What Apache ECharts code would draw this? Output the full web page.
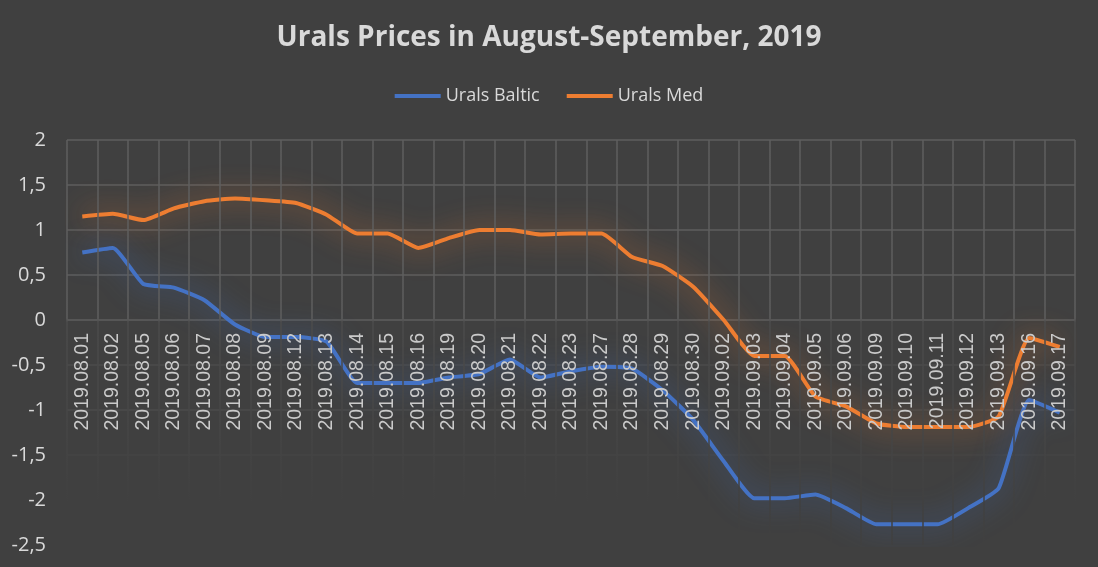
<!DOCTYPE html>
<html>
<head>
<meta charset="utf-8">
<script src="https://cdn.jsdelivr.net/npm/echarts@6/dist/echarts.min.js"></script>
<style>
  html, body { margin: 0; padding: 0; background: #404040; }
  #chart { width: 1098px; height: 567px; }
</style>
</head>
<body>
<div id="chart"></div>
<script>
// торговые дни
const days = [
  "2019.08.01", "2019.08.02", "2019.08.05", "2019.08.06", "2019.08.07",
  "2019.08.08", "2019.08.09", "2019.08.12", "2019.08.13", "2019.08.14",
  "2019.08.15", "2019.08.16", "2019.08.19", "2019.08.20", "2019.08.21",
  "2019.08.22", "2019.08.23", "2019.08.27", "2019.08.28", "2019.08.29",
  "2019.08.30", "2019.09.02", "2019.09.03", "2019.09.04", "2019.09.05",
  "2019.09.06", "2019.09.09", "2019.09.10", "2019.09.11", "2019.09.12",
  "2019.09.13", "2019.09.16", "2019.09.17"
];

const uralsBaltic = [
  0.75, 0.80, 0.40, 0.36, 0.22, -0.05, -0.19, -0.19, -0.24, -0.70,
  -0.70, -0.70, -0.64, -0.60, -0.44, -0.64, -0.57, -0.52, -0.54, -0.78,
  -1.11, -1.57, -1.98, -1.98, -1.94, -2.09, -2.27, -2.27, -2.27, -2.09,
  -1.87, -0.89, -1.03
];

const uralsMed = [
  1.15, 1.18, 1.11, 1.24, 1.32, 1.35, 1.33, 1.30, 1.17, 0.96,
  0.96, 0.80, 0.91, 1.00, 1.00, 0.95, 0.96, 0.96, 0.70, 0.60,
  0.37, 0.00, -0.40, -0.40, -0.85, -0.96, -1.15, -1.19, -1.19, -1.19,
  -1.07, -0.20, -0.30
];

const yMin = -2.5, yMax = 2, yStep = 0.5;

const textColor = "#d9d9d9";
const gridColor = "#5e5e5e";
const faintColor = "#4b4b4b";

// цвета горизонтальных линий снизу вверх: ниже нуля почти не видно
const hLineColors = ["#404040", "#404040", "#454545", faintColor, faintColor,
  gridColor, gridColor, gridColor, gridColor, gridColor];

const gridTop = 140, gridBottom = 22;
const plotH = 567 - gridTop - gridBottom;
// подписи оси X стоят на нуле
const zeroShift = plotH * (0 - yMin) / (yMax - yMin);

const chart = echarts.init(document.getElementById("chart"));

function glow(color, shadow) {
  return {
    type: "line",
    smooth: 0.15,
    symbol: "none",
    lineStyle: {
      width: 4,
      color: color,
      shadowBlur: 28,
      shadowColor: shadow
    },
    itemStyle: { color: color },
    z: 2
  };
}

chart.setOption({
  backgroundColor: "#404040",
  title: {
    text: "Urals Prices in August-September, 2019",
    left: "center",
    top: 19,
    textStyle: {
      color: textColor,
      fontFamily: "Open Sans",
      fontWeight: "bold",
      fontSize: 28
    }
  },
  legend: {
    top: 82,
    left: "center",
    icon: "rect",
    itemWidth: 46,
    itemHeight: 4,
    itemGap: 27,
    textStyle: { color: textColor, fontFamily: "Open Sans", fontSize: 18 },
    data: ["Urals Baltic", "Urals Med"]
  },
  grid: { left: 67, right: 23, top: gridTop, bottom: gridBottom, outerBoundsMode: "none" },
  xAxis: {
    type: "category",
    data: days,
    boundaryGap: true,
    offset: -zeroShift,
    z: 5,
    axisLine: { show: false, onZero: false },
    axisTick: { show: false },
    axisLabel: {
      rotate: 90,
      interval: 0,
      margin: 13,
      color: "#cacaca",
      fontFamily: "Liberation Sans",
      fontSize: 19.5
    },
    splitLine: {
      show: true,
      lineStyle: {
        width: 1.5,
        color: {
          type: "linear",
          global: true,
          x: 0, y: 140, x2: 0, y2: 545,
          colorStops: [
            { offset: 0, color: gridColor },
            { offset: 0.44, color: gridColor },
            { offset: 0.45, color: faintColor },
            { offset: 0.7, color: "#464646" },
            { offset: 0.9, color: "#404040" },
            { offset: 1, color: "#404040" }
          ]
        }
      }
    }
  },
  yAxis: {
    type: "value",
    min: yMin,
    max: yMax,
    interval: yStep,
    axisLine: { show: false },
    axisTick: { show: false },
    axisLabel: {
      margin: 21,
      color: textColor,
      fontFamily: "Open Sans",
      fontSize: 20,
      formatter: v => String(v).replace(".", ",")
    },
    splitLine: { lineStyle: { width: 1.5, color: hLineColors } }
  },
  series: [
    Object.assign(glow("#4472c4", "rgba(68,114,196,0.9)"), {
      name: "Urals Baltic",
      data: uralsBaltic
    }),
    Object.assign(glow("#ed7d31", "rgba(237,125,49,0.85)"), {
      name: "Urals Med",
      data: uralsMed
    })
  ]
});
</script>
</body>
</html>
